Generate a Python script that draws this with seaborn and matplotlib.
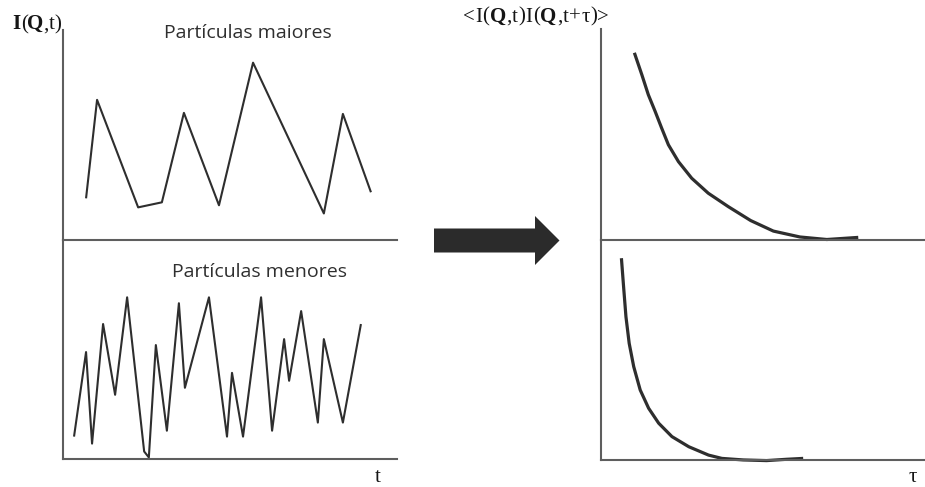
import numpy as np
import pandas as pd
import matplotlib
matplotlib.use("Agg")
import matplotlib.pyplot as plt
import seaborn as sns
from matplotlib.patches import Polygon

# ---- data (arbitrary units 0..100) ----
# Intensity fluctuations, larger particles
t_large = [6.9, 10.2, 22.5, 29.6, 36.2, 46.7, 56.9, 78.1, 83.8, 92.2]
I_large = [19.6, 66.5, 15.3, 17.7, 60.3, 16.3, 84.2, 12.4, 59.8, 22.5]

# Intensity fluctuations, smaller particles
t_small = [3.3, 6.9, 8.7, 12.0, 15.6, 19.2, 24.3, 25.7, 27.8, 31.1, 34.7, 36.5,
           43.7, 49.1, 50.6, 53.9, 59.3, 62.6, 66.2, 67.7, 71.3, 76.3, 78.1,
           83.8, 89.2]
I_small = [10.0, 48.6, 6.8, 61.4, 29.1, 73.6, 3.2, 0.5, 51.8, 12.7, 70.9, 32.3,
           73.6, 10.0, 39.1, 10.0, 73.6, 12.7, 54.5, 35.5, 67.3, 16.4, 54.5,
           16.4, 61.4]

# Autocorrelation, larger particles
tau_large = [10.3, 12.6, 14.6, 16.7, 18.7, 20.8, 23.9, 28.0, 33.1, 39.3, 46.2,
             53.2, 61.4, 69.7, 79.4]
C_large = [88.7, 78.3, 68.8, 60.9, 53.0, 45.0, 37.0, 29.1, 22.0, 15.6, 9.0,
           4.0, 1.2, 0.0, 1.0]

# Autocorrelation, smaller particles
tau_small = [6.3, 7.0, 7.7, 8.7, 10.1, 12.1, 14.7, 17.8, 21.9, 27.1, 33.2, 37.3,
             43.9, 51.1, 57.3, 62.4]
C_small = [91.5, 78.0, 64.9, 52.8, 42.2, 31.6, 23.3, 16.5, 10.4, 5.8, 2.0, 0.5,
           -0.2, -0.5, 0.1, 0.5]

title_large = "Partículas maiores"
title_small = "Partículas menores"
# label pieces: (text, weight)
ylabel_left = [("I", "bold"), ("(", "normal"), ("Q", "bold"), (",t)", "normal")]
ylabel_right = [("<I(", "normal"), ("Q", "bold"), (",t)I(", "normal"),
                ("Q", "bold"), (",t+τ)>", "normal")]
xlabel_left = "t"
xlabel_right = "τ"

# ---- style ----
sns.set_theme(style="white")

W, H = 925, 487
fig = plt.figure(figsize=(W / 100, H / 100), dpi=100)
fig.patch.set_facecolor("white")

AXIS_COLOR = "#5e5e5e"
LINE_COLOR = "#2e2e2e"
TEXT_COLOR = "#151515"


def px_axes(x0, y0, x1, y1):
    return fig.add_axes([x0 / W, 1 - y1 / H, (x1 - x0) / W, (y1 - y0) / H])


def style_axes(ax, ylim):
    ax.set_xlim(0, 100)
    ax.set_ylim(*ylim)
    ax.set_xticks([])
    ax.set_yticks([])
    ax.set_xlabel("")
    ax.set_ylabel("")
    ax.set_facecolor("none")
    for s in ["top", "right"]:
        ax.spines[s].set_visible(False)
    for s in ["left", "bottom"]:
        ax.spines[s].set_color(AXIS_COLOR)
        ax.spines[s].set_linewidth(1.5)


# left panels
ax_lt = px_axes(63, 29.5, 397, 239.5)
ax_lb = px_axes(63, 239.5, 397, 458.5)
# right panels
ax_rt = px_axes(601, 29, 925, 239.5)
ax_rb = px_axes(601, 239.5, 925, 459.5)

line_kw = dict(sort=False, estimator=None, color=LINE_COLOR)
sns.lineplot(x=t_large, y=I_large, ax=ax_lt, linewidth=1.5, **line_kw)
sns.lineplot(x=t_small, y=I_small, ax=ax_lb, linewidth=1.5, **line_kw)
sns.lineplot(x=tau_large, y=C_large, ax=ax_rt, linewidth=2.3, **line_kw)
sns.lineplot(x=tau_small, y=C_small, ax=ax_rb, linewidth=2.3, **line_kw)

for ax in (ax_lt, ax_lb, ax_rt, ax_rb):
    style_axes(ax, (0, 100))
    for ln in ax.get_lines():
        ln.set_clip_on(False)
        ln.set_solid_joinstyle("round")
        ln.set_solid_capstyle("butt")

# overlay in pixel coordinates for texts and the arrow
ov = fig.add_axes([0, 0, 1, 1])
ov.set_xlim(0, W)
ov.set_ylim(H, 0)
ov.axis("off")

renderer = fig.canvas.get_renderer()


def rich_label(x_left, x_right, baseline, pieces, fontsize):
    chars = [(c, w) for s, w in pieces for c in s]
    objs, widths = [], []
    for c, w in chars:
        t = ov.text(0, baseline, c, family="Liberation Serif", fontweight=w,
                    fontsize=fontsize, ha="left", va="baseline", color=TEXT_COLOR)
        objs.append(t)
        widths.append(t.get_window_extent(renderer).width)
    gap = (x_right - x_left - sum(widths)) / (len(chars) - 1)
    x = x_left
    for t, wd in zip(objs, widths):
        t.set_x(x)
        x += wd + gap


rich_label(12.5, 61.5, 29.3, ylabel_left, 15)
rich_label(463, 609, 21.7, ylabel_right, 15)

ov.text(248, 33, title_large, family="Open Sans", fontsize=14, color="#2f2f2f",
        ha="center", va="center")
ov.text(259.5, 272, title_small, family="Open Sans", fontsize=14, color="#2f2f2f",
        ha="center", va="center")
ov.text(377.5, 477, xlabel_left, family="Liberation Serif", fontsize=15,
        color=TEXT_COLOR, ha="center", va="center")
ov.text(913, 478, xlabel_right, family="Liberation Serif", fontsize=15,
        color=TEXT_COLOR, ha="center", va="center")

# arrow between the panels (decoration)
arrow = Polygon([(434, 228.5), (535, 228.5), (535, 216), (559.5, 240.5),
                 (535, 265), (535, 252.5), (434, 252.5)],
                closed=True, facecolor="#2b2b2b", edgecolor="none")
ov.add_patch(arrow)

fig.savefig("out.png", dpi=100, facecolor="white")
